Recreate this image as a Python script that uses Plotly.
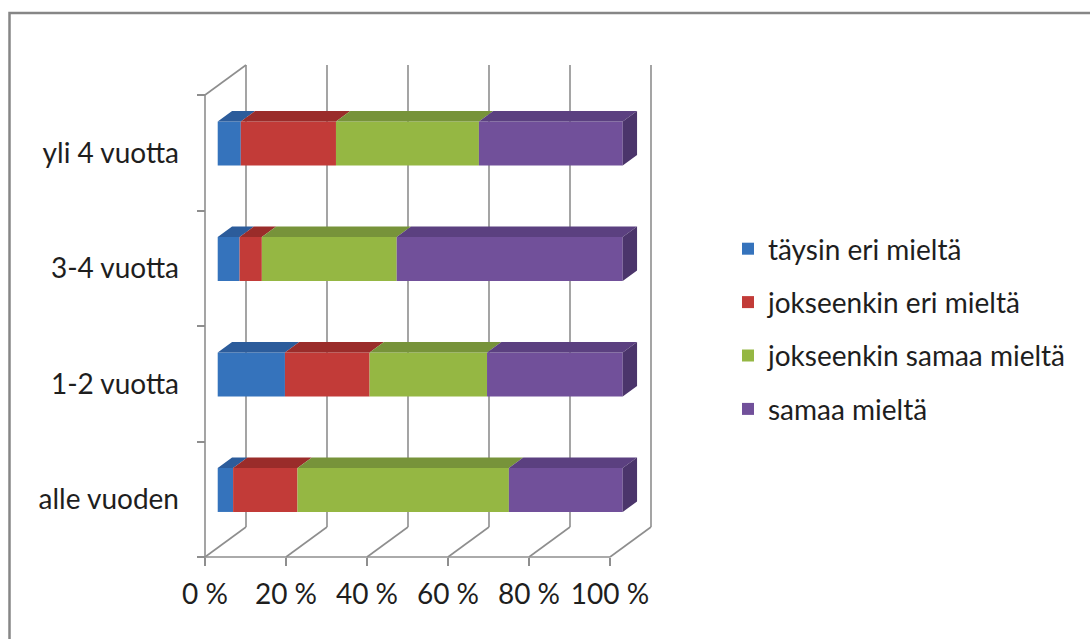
import plotly.graph_objects as go

# ---- data -------------------------------------------------------------
categories = ["alle vuoden", "1-2 vuotta", "3-4 vuotta", "yli 4 vuotta"]
series_names = ["täysin eri mieltä", "jokseenkin eri mieltä",
                "jokseenkin samaa mieltä", "samaa mieltä"]
taysin_eri = [3.8, 16.6, 5.4, 5.7]
jokseenkin_eri = [15.9, 20.9, 5.5, 23.5]
jokseenkin_samaa = [52.2, 29.0, 33.3, 35.3]
samaa = [28.1, 33.5, 55.8, 35.5]
x_tick_values = [0, 20, 40, 60, 80, 100]
x_tick_labels = ["0 %", "20 %", "40 %", "60 %", "80 %", "100 %"]

series_values = [taysin_eri, jokseenkin_eri, jokseenkin_samaa, samaa]

# ---- styling ------------------------------------------------------------
face_colors = ["#3573BC", "#C23B38", "#95B743", "#71509A"]
top_colors = ["#2C5C9B", "#9A2C2A", "#77933A", "#5B4080"]
side_color = "#4B356B"
grid_color = "#8E8E8E"
text_color = "#1E1E1E"
FONT = "Lato, 'Open Sans', sans-serif"
FONT_SIZE = 28

# ---- geometry (pixels) ------------------------------------------------
W, H = 1090, 639
PLOT_L, PLOT_R, PLOT_T, PLOT_B = 190, 660, 55, 565
ORIGIN_X = 205          # pixel of 0 % on the front floor edge
FLOOR_Y = 557           # pixel of the front floor edge
PX_PER_PCT = 4.05
PX_PER_CAT = 115.5
DEPTH_PX = (41, 30)     # back wall offset (right, up)

DX = DEPTH_PX[0] / PX_PER_PCT
DY = DEPTH_PX[1] / PX_PER_CAT
F0, F1 = 0.31, 0.66     # depth slots of the bar front / back faces
BAR_W = 44 / PX_PER_CAT

x_range = [(PLOT_L - ORIGIN_X) / PX_PER_PCT, (PLOT_R - ORIGIN_X) / PX_PER_PCT]
y_range = [-0.5 - (PLOT_B - FLOOR_Y) / PX_PER_CAT,
           -0.5 + (FLOOR_Y - PLOT_T) / PX_PER_CAT]

fig = go.Figure()
cat_idx = list(range(len(categories)))
n_cat = len(categories)

# ---- front faces of the stacked bars -----------------------------------
cum = [0.0] * n_cat
bases = []
for name, vals, col in zip(series_names, series_values, face_colors):
    bases.append(list(cum))
    fig.add_trace(go.Bar(
        y=cat_idx, x=vals, base=[c + F0 * DX for c in cum],
        orientation="h", width=BAR_W, offset=F0 * DY - BAR_W / 2,
        marker=dict(color=col, line=dict(width=0)),
        name=name, legendgroup=name, hoverinfo="skip",
    ))
    cum = [c + v for c, v in zip(cum, vals)]

# ---- top faces (one polygon per segment) -------------------------------
ddx = (F1 - F0) * DX
ddy = (F1 - F0) * DY
for vals, base, col in zip(series_values, bases, top_colors):
    xs, ys = [], []
    for i in cat_idx:
        x0 = base[i] + F0 * DX
        x1 = x0 + vals[i]
        yt = i + F0 * DY + BAR_W / 2
        xs += [x0, x1, x1 + ddx, x0 + ddx, x0, None]
        ys += [yt, yt, yt + ddy, yt + ddy, yt, None]
    fig.add_trace(go.Scatter(
        x=xs, y=ys, mode="lines", fill="toself", fillcolor=col,
        line=dict(width=0, color=col), showlegend=False, hoverinfo="skip"))

# ---- right end faces -----------------------------------------------------
xs, ys = [], []
for i in cat_idx:
    xe = cum[i] + F0 * DX
    yb = i + F0 * DY - BAR_W / 2
    yt = i + F0 * DY + BAR_W / 2
    xs += [xe, xe, xe + ddx, xe + ddx, xe, None]
    ys += [yb, yt, yt + ddy, yb + ddy, yb, None]
fig.add_trace(go.Scatter(
    x=xs, y=ys, mode="lines", fill="toself", fillcolor=side_color,
    line=dict(width=0, color=side_color), showlegend=False, hoverinfo="skip"))

# ---- walls, floor and gridlines -----------------------------------------
shapes = []
line = dict(color=grid_color, width=1.6)
y_lo, y_hi = -0.5, n_cat - 0.5
for t in x_tick_values:
    shapes.append(dict(type="line", xref="x", yref="y", layer="below",
                       x0=t + DX, x1=t + DX, y0=y_lo + DY, y1=y_hi + DY, line=line))
    shapes.append(dict(type="line", xref="x", yref="y", layer="below",
                       x0=t, x1=t + DX, y0=y_lo, y1=y_lo + DY, line=line))
shapes.append(dict(type="line", xref="x", yref="y", layer="below",
                   x0=0, x1=100, y0=y_lo, y1=y_lo, line=line))
shapes.append(dict(type="line", xref="x", yref="y", layer="below",
                   x0=0, x1=0, y0=y_lo, y1=y_hi, line=line))
shapes.append(dict(type="line", xref="x", yref="y", layer="below",
                   x0=0, x1=DX, y0=y_hi, y1=y_hi + DY, line=line))

# chart frame
pw = PLOT_R - PLOT_L
ph = PLOT_B - PLOT_T
shapes.append(dict(type="rect", xref="paper", yref="paper",
                   x0=(9.5 - PLOT_L) / pw, x1=(W + 20 - PLOT_L) / pw,
                   y0=(PLOT_B - (H + 20)) / ph, y1=(PLOT_B - 13) / ph,
                   line=dict(color="#868686", width=2.5), fillcolor="rgba(0,0,0,0)"))

fig.update_layout(
    width=W, height=H,
    margin=dict(l=PLOT_L, r=W - PLOT_R, t=PLOT_T, b=H - PLOT_B),
    paper_bgcolor="white", plot_bgcolor="white",
    barmode="overlay",
    font=dict(family=FONT, size=FONT_SIZE, color=text_color),
    shapes=shapes,
    showlegend=True,
    legend=dict(
        xref="container", yref="container", x=728 / W, y=1 - 224 / H,
        xanchor="left", yanchor="top", tracegroupgap=14, itemwidth=30,
        font=dict(family=FONT, size=FONT_SIZE, color=text_color),
        bgcolor="rgba(0,0,0,0)", traceorder="grouped",
    ),
    xaxis=dict(
        range=x_range, tickmode="array", tickvals=x_tick_values,
        ticktext=x_tick_labels, showgrid=False, zeroline=False, showline=False,
        ticks="outside", ticklen=8, tickwidth=1.6, tickcolor=grid_color,
        anchor="free", position=(PLOT_B - FLOOR_Y) / ph, fixedrange=True,
        ticklabelstandoff=4,
    ),
    yaxis=dict(
        range=y_range, tickmode="array", tickvals=cat_idx, ticktext=categories,
        showgrid=False, zeroline=False, showline=False, ticks="",
        minor=dict(tickmode="array", tickvals=[k - 0.5 for k in range(n_cat + 1)],
                   ticks="outside", ticklen=8, tickwidth=1.6, tickcolor=grid_color,
                   showgrid=False),
        anchor="free", position=(ORIGIN_X - PLOT_L) / pw, fixedrange=True,
        ticklabelstandoff=26,
    ),
)

fig.write_html("out.html")
